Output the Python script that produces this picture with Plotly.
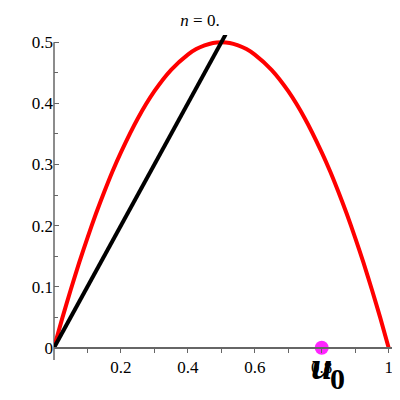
import plotly.graph_objects as go

# Red curve samples
curve_x = [0, 0.025, 0.05, 0.075, 0.1, 0.125, 0.15, 0.175, 0.2, 0.25, 0.3, 0.35, 0.4,
           0.425, 0.45, 0.475, 0.5, 0.525, 0.55, 0.575, 0.6, 0.65, 0.7, 0.75, 0.8,
           0.825, 0.85, 0.875, 0.9, 0.925, 0.95, 0.975, 1.0]
curve_y = [0, 0.049, 0.095, 0.139, 0.18, 0.219, 0.255, 0.289, 0.32, 0.375, 0.42, 0.455, 0.48,
           0.489, 0.495, 0.499, 0.5, 0.499, 0.495, 0.489, 0.48, 0.455, 0.42, 0.375, 0.32,
           0.289, 0.255, 0.219, 0.18, 0.139, 0.095, 0.049, 0]

# Black diagonal segment
line_x = [0, 0.513]
line_y = [0, 0.513]

# Starting point u0
pt_x = [0.8]
pt_y = [0]

xtick_vals = [0.2, 0.4, 0.6, 0.8, 1]
xtick_text = ["0.2", "0.4", "0.6", "0.8", "1"]
ytick_vals = [0, 0.1, 0.2, 0.3, 0.4, 0.5]
ytick_text = ["0", "0.1", "0.2", "0.3", "0.4", "0.5"]

title_text = "<i>n</i> = 0."
point_label_main = "<b><i>u</i></b>"
point_label_sub = "<b>0</b>"

font_family = "Liberation Serif"
axis_color = "#666666"

fig = go.Figure()
fig.add_trace(go.Scatter(x=curve_x, y=curve_y, mode="lines",
                         line=dict(color="#ff0000", width=4, shape="spline", smoothing=0.6),
                         cliponaxis=False, hoverinfo="skip"))
fig.add_trace(go.Scatter(x=line_x, y=line_y, mode="lines",
                         line=dict(color="#000000", width=4),
                         cliponaxis=False, hoverinfo="skip"))
fig.add_trace(go.Scatter(x=pt_x, y=pt_y, mode="markers",
                         marker=dict(color="#ff00ff", size=14, opacity=0.85),
                         cliponaxis=False, hoverinfo="skip"))

y_min, y_max = -0.02, 0.512
zero_pos = (0 - y_min) / (y_max - y_min)

fig.update_layout(
    width=400, height=400,
    margin=dict(l=46, r=16, t=27, b=48),
    plot_bgcolor="white", paper_bgcolor="white",
    showlegend=False,
    font=dict(family=font_family, size=17, color="black"),
    title=dict(text=title_text, x=0.48, xanchor="center", y=0.971, yanchor="middle",
               font=dict(family=font_family, size=17, color="black")),
    xaxis=dict(range=[0, 1.01], showgrid=False, zeroline=False, automargin=False,
               showline=True, linecolor=axis_color, linewidth=1.5,
               anchor="free", position=zero_pos,
               tickmode="array", tickvals=xtick_vals, ticktext=xtick_text,
               ticks="outside", ticklen=4, tickcolor=axis_color,
               minor=dict(tickvals=[0.1, 0.3, 0.5, 0.7, 0.9], ticks="outside",
                          ticklen=4, tickcolor=axis_color),
               tickfont=dict(family=font_family, size=17)),
    yaxis=dict(range=[y_min, y_max], showgrid=False, zeroline=False, automargin=False,
               showline=False,
               tickmode="array", tickvals=ytick_vals, ticktext=ytick_text,
               ticks="inside", ticklen=5, tickcolor=axis_color,
               minor=dict(tickvals=[0.05, 0.15, 0.25, 0.35, 0.45], ticks="inside",
                          ticklen=4, tickcolor=axis_color),
               tickfont=dict(family=font_family, size=17)),
)

# y axis line from bottom to 0.5 only
fig.add_shape(type="line", xref="paper", yref="y", x0=0, x1=0, y0=y_min, y1=0.5,
              line=dict(color=axis_color, width=1.5), layer="below")

fig.add_annotation(x=pt_x[0], y=pt_y[0], xref="x", yref="y",
                   text=point_label_main, showarrow=False,
                   xshift=0, yshift=-18,
                   font=dict(family=font_family, size=38, color="black"))
fig.add_annotation(x=pt_x[0], y=pt_y[0], xref="x", yref="y",
                   text=point_label_sub, showarrow=False,
                   xshift=16, yshift=-31,
                   font=dict(family=font_family, size=30, color="black"))

fig.write_html("out.html")
